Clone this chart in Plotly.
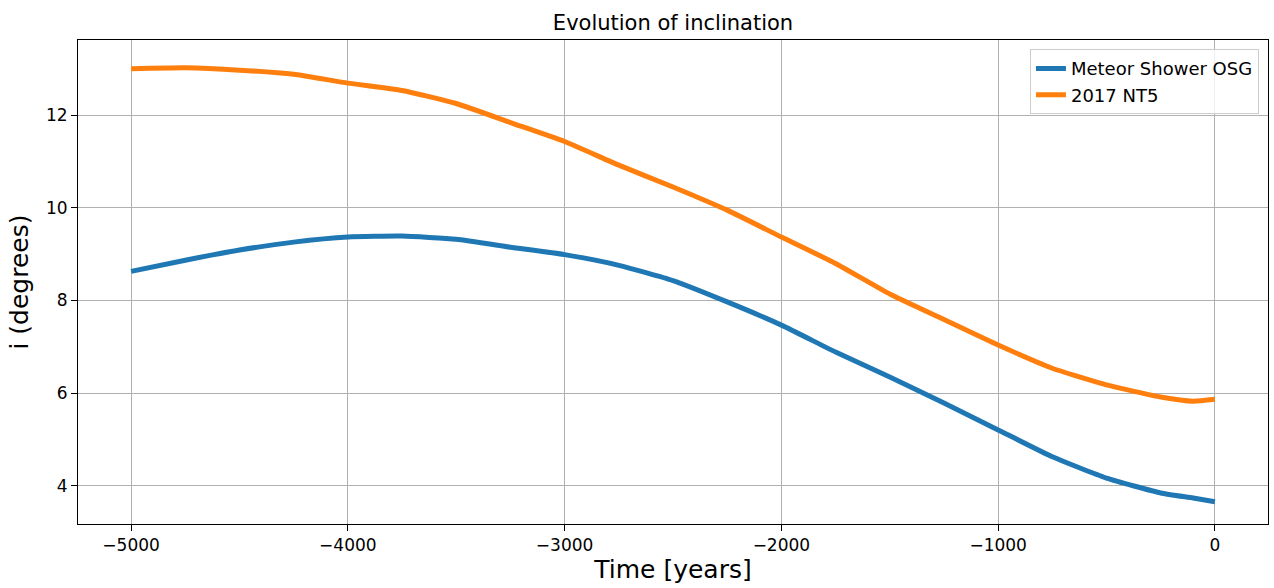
import plotly.graph_objects as go

years = [-5000, -4750, -4500, -4250, -4000, -3750, -3500, -3250, -3000, -2750,
         -2500, -2250, -2000, -1750, -1500, -1250, -1000, -750, -500, -250, -100, 0]

osg_incl = [8.63, 8.87, 9.09, 9.26, 9.37, 9.39, 9.32, 9.15, 8.99, 8.76,
            8.43, 7.97, 7.47, 6.89, 6.35, 5.79, 5.21, 4.63, 4.17, 3.85, 3.74, 3.66]

nt5_incl = [13.00, 13.02, 12.97, 12.88, 12.69, 12.53, 12.25, 11.84, 11.43, 10.92,
            10.45, 9.95, 9.37, 8.80, 8.14, 7.59, 7.04, 6.54, 6.18, 5.92, 5.83, 5.87]

x_ticks = [-5000, -4000, -3000, -2000, -1000, 0]
x_tick_text = ["\u22125000", "\u22124000", "\u22123000", "\u22122000", "\u22121000", "0"]
y_ticks = [4, 6, 8, 10, 12]

fig = go.Figure()
fig.add_trace(go.Scatter(x=years, y=osg_incl, mode="lines", name="Meteor Shower OSG",
                         line=dict(color="#1f77b4", width=5, shape="spline", smoothing=0.5)))
fig.add_trace(go.Scatter(x=years, y=nt5_incl, mode="lines", name="2017 NT5",
                         line=dict(color="#ff7f0e", width=5, shape="spline", smoothing=0.5)))

axis_common = dict(showline=True, linecolor="black", linewidth=1, mirror=True,
                   ticks="outside", ticklen=6, tickwidth=1, tickcolor="black",
                   showgrid=True, gridcolor="#b0b0b0", gridwidth=1, zeroline=False,
                   automargin=False,
                   tickfont=dict(family="DejaVu Sans", size=17, color="black"))

fig.update_layout(
    width=1274, height=588,
    margin=dict(l=78, r=6, t=40, b=64),
    paper_bgcolor="white", plot_bgcolor="white",
    font=dict(family="DejaVu Sans", color="black"),
    title=dict(text="Evolution of inclination", x=(78 + 1268) / 2 / 1274, xanchor="center",
               y=1 - 23 / 588, yanchor="middle",
               font=dict(family="DejaVu Sans", size=21, color="black")),
    xaxis=dict(range=[-5245, 245], tickvals=x_ticks, ticktext=x_tick_text,
               title=dict(text="Time [years]", font=dict(family="DejaVu Sans", size=25), standoff=4),
               **axis_common),
    yaxis=dict(range=[3.18, 13.62], tickvals=y_ticks,
               title=dict(text="i (degrees)", font=dict(family="DejaVu Sans", size=25), standoff=10),
               **axis_common),
    legend=dict(x=0.9924, y=0.981, xanchor="right", yanchor="top",
                bgcolor="rgba(255,255,255,0.8)", bordercolor="#cccccc", borderwidth=1,
                font=dict(family="DejaVu Sans", size=18, color="black"),
                tracegroupgap=2),
    showlegend=True,
)

fig.write_html("out.html", config={"displayModeBar": False},
               post_script="document.body.style.margin='0';document.body.style.overflow='hidden';")
